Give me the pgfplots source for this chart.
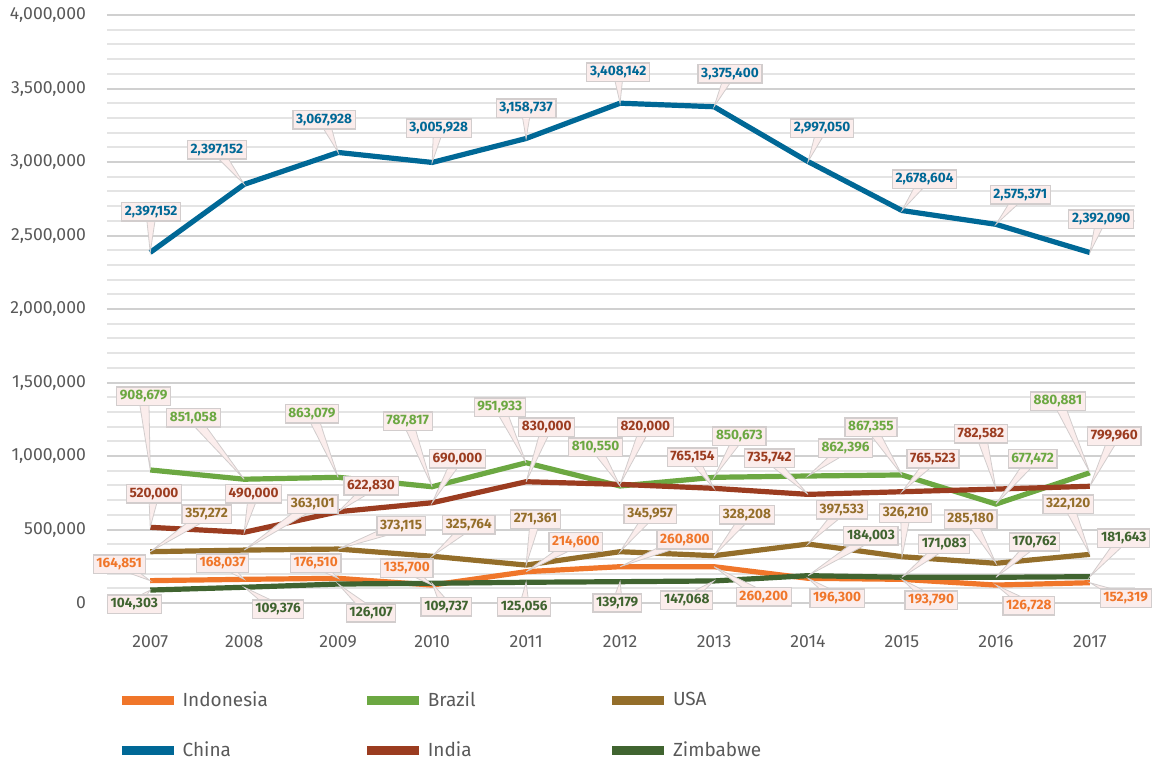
\documentclass[border=0pt]{standalone}
\usepackage{fontspec}
\setmainfont{Fira Sans}
\usepackage{pgfplots}
\pgfplotsset{compat=1.18}
\usetikzlibrary{calc}

\definecolor{cIndo}{RGB}{240,118,42}
\definecolor{cBraz}{RGB}{108,168,66}
\definecolor{cUSA}{RGB}{148,110,42}
\definecolor{cChina}{RGB}{0,104,150}
\definecolor{cIndia}{RGB}{155,60,32}
\definecolor{cZim}{RGB}{64,100,48}
\definecolor{boxfill}{RGB}{251,237,236}
\definecolor{boxdraw}{RGB}{210,205,205}
\definecolor{txt}{RGB}{89,89,89}
\definecolor{gmaj}{RGB}{208,208,208}
\definecolor{gmin}{RGB}{228,228,228}

\newcommand{\callout}[6]{%
  \filldraw[fill=boxfill,draw=boxdraw,line width=0.4pt]
    ($(axis cs:#2,#3)!2.6pt!90:(axis cs:#4,#5)$) -- (axis cs:#4,#5) --
    ($(axis cs:#2,#3)!2.6pt!-90:(axis cs:#4,#5)$) -- cycle;
  \node[fill=boxfill,draw=boxdraw,line width=0.6pt,text=#1,
        font=\fontsize{6.8}{8}\selectfont\bfseries,
        inner xsep=1.6pt,inner ysep=1.6pt] at (axis cs:#2,#3) {#6};%
}

\begin{document}
\begin{tikzpicture}
\begin{axis}[
  scale only axis, width=514pt, height=294pt,
  xmin=2006.54, xmax=2017.48, ymin=0, ymax=4000000,
  clip=false,
  axis line style={draw=none},
  tick style={draw=none},
  xtick={2007,2008,2009,2010,2011,2012,2013,2014,2015,2016,2017},
  ytick={0,500000,1000000,1500000,2000000,2500000,3000000,3500000,4000000},
  minor y tick num=4,
  ymajorgrids, yminorgrids,
  major grid style={line width=1pt, draw=gmaj},
  minor grid style={line width=1pt, draw=gmin},
  scaled y ticks=false,
  /pgf/number format/assume math mode=true,
  xticklabel style={/pgf/number format/1000 sep={}, yshift=-12.5pt},
  yticklabel style={/pgf/number format/fixed, /pgf/number format/1000 sep={,}, xshift=-7pt},
  ticklabel style={font=\fontsize{8.8}{10}\selectfont, text=txt},
  legend columns=3,
  legend cell align=left,
  legend image code/.code={\draw[#1, line width=4.6pt] (0pt,0pt) -- (26pt,0pt);},
  legend style={at={(axis description cs:0,0)}, anchor=north west,
    xshift=2pt, yshift=-40pt, draw=none, fill=none,
    font=\fontsize{9.5}{11}\selectfont, text=txt, row sep=12.2pt},
]
\addplot[cIndo, line width=2.6pt] coordinates {(2007,152000) (2008,161000) (2009,168000) (2010,122000) (2011,213000) (2012,247000) (2013,247000) (2014,168000) (2015,161000) (2016,122000) (2017,138000)};
\addlegendentry{\makebox[88pt][l]{Indonesia}}
\addplot[cBraz, line width=2.6pt] coordinates {(2007,905000) (2008,842000) (2009,855000) (2010,791000) (2011,954000) (2012,796000) (2013,855000) (2014,864000) (2015,871000) (2016,673000) (2017,886000)};
\addlegendentry{\makebox[88pt][l]{Brazil}}
\addplot[cUSA, line width=2.6pt] coordinates {(2007,349000) (2008,360000) (2009,367000) (2010,318000) (2011,258000) (2012,349000) (2013,322000) (2014,401000) (2015,315000) (2016,270000) (2017,331000)};
\addlegendentry{USA}
\addplot[cChina, line width=2.6pt] coordinates {(2007,2385000) (2008,2848000) (2009,3065000) (2010,2997000) (2011,3160000) (2012,3400000) (2013,3376000) (2014,3003000) (2015,2670000) (2016,2576000) (2017,2384000)};
\addlegendentry{China}
\addplot[cIndia, line width=2.6pt] coordinates {(2007,515000) (2008,481000) (2009,621000) (2010,682000) (2011,825000) (2012,807000) (2013,780000) (2014,739000) (2015,757000) (2016,775000) (2017,794000)};
\addlegendentry{India}
\addplot[cZim, line width=2.6pt] coordinates {(2007,88000) (2008,107000) (2009,129000) (2010,134000) (2011,141000) (2012,145000) (2013,150000) (2014,186000) (2015,175000) (2016,175000) (2017,179000)};
\addlegendentry{Zimbabwe}

% China
\callout{cChina}{2007.01}{2660000}{2007}{2385000}{2,397,152}
\callout{cChina}{2007.71}{3082000}{2008}{2848000}{2,397,152}
\callout{cChina}{2008.85}{3286000}{2009}{3065000}{3,067,928}
\callout{cChina}{2010.07}{3231000}{2010}{2997000}{3,005,928}
\callout{cChina}{2011.00}{3367000}{2011}{3160000}{3,158,737}
\callout{cChina}{2011.98}{3612000}{2012}{3400000}{3,408,142}
\callout{cChina}{2013.17}{3599000}{2013}{3376000}{3,375,400}
\callout{cChina}{2014.15}{3231000}{2014}{3003000}{2,997,050}
\callout{cChina}{2015.24}{2884000}{2015}{2670000}{2,678,604}
\callout{cChina}{2016.26}{2776000}{2016}{2576000}{2,575,371}
\callout{cChina}{2017.12}{2612000}{2017}{2384000}{2,392,090}
% Brazil
\callout{cBraz}{2006.93}{1408000}{2007}{905000}{908,679}
\callout{cBraz}{2007.46}{1259000}{2008}{842000}{851,058}
\callout{cBraz}{2008.72}{1286000}{2009}{855000}{863,079}
\callout{cBraz}{2009.74}{1238000}{2010}{791000}{787,817}
\callout{cBraz}{2010.72}{1333000}{2011}{954000}{951,933}
\callout{cBraz}{2011.74}{1061000}{2012}{796000}{810,550}
\callout{cBraz}{2013.27}{1136000}{2013}{855000}{850,673}
\callout{cBraz}{2014.40}{1054000}{2014}{864000}{862,396}
\callout{cBraz}{2014.67}{1197000}{2015}{871000}{867,355}
\callout{cBraz}{2016.39}{980000}{2016}{673000}{677,472}
\callout{cBraz}{2016.66}{1374000}{2017}{886000}{880,881}
% India
\callout{cIndia}{2007.04}{742000}{2007}{515000}{520,000}
\callout{cIndia}{2008.10}{742000}{2008}{481000}{490,000}
\callout{cIndia}{2009.35}{796000}{2009}{621000}{622,830}
\callout{cIndia}{2010.27}{980000}{2010}{682000}{690,000}
\callout{cIndia}{2011.22}{1197000}{2011}{825000}{830,000}
\callout{cIndia}{2012.27}{1197000}{2012}{807000}{820,000}
\callout{cIndia}{2012.77}{993000}{2013}{780000}{765,154}
\callout{cIndia}{2013.59}{986000}{2014}{739000}{735,742}
\callout{cIndia}{2015.33}{980000}{2015}{757000}{765,523}
\callout{cIndia}{2015.84}{1150000}{2016}{775000}{782,582}
\callout{cIndia}{2017.26}{1136000}{2017}{794000}{799,960}
% USA
\callout{cUSA}{2007.60}{605000}{2007}{349000}{357,272}
\callout{cUSA}{2008.73}{673000}{2008}{360000}{363,101}
\callout{cUSA}{2009.67}{524000}{2009}{367000}{373,115}
\callout{cUSA}{2010.39}{531000}{2010}{318000}{325,764}
\callout{cUSA}{2011.10}{571000}{2011}{258000}{271,361}
\callout{cUSA}{2012.32}{605000}{2012}{349000}{345,957}
\callout{cUSA}{2013.35}{599000}{2013}{322000}{328,208}
\callout{cUSA}{2014.36}{633000}{2014}{401000}{397,533}
\callout{cUSA}{2015.04}{612000}{2015}{315000}{326,210}
\callout{cUSA}{2015.73}{571000}{2016}{270000}{285,180}
\callout{cUSA}{2016.77}{673000}{2017}{331000}{322,120}
% Indonesia
\callout{cIndo}{2006.67}{265000}{2007}{152000}{164,851}
\callout{cIndo}{2007.77}{272000}{2008}{161000}{168,037}
\callout{cIndo}{2008.76}{272000}{2009}{168000}{176,510}
\callout{cIndo}{2009.73}{238000}{2010}{122000}{135,700}
\callout{cIndo}{2011.53}{415000}{2011}{213000}{214,600}
\callout{cIndo}{2012.69}{429000}{2012}{247000}{260,800}
\callout{cIndo}{2013.53}{41000}{2013}{247000}{260,200}
\callout{cIndo}{2014.31}{34000}{2014}{168000}{196,300}
\callout{cIndo}{2015.31}{20000}{2015}{161000}{193,790}
\callout{cIndo}{2016.35}{-20000}{2016}{122000}{126,728}
\callout{cIndo}{2017.38}{34000}{2017}{138000}{152,319}
% Zimbabwe
\callout{cZim}{2006.83}{-7000}{2007}{88000}{104,303}
\callout{cZim}{2008.36}{-41000}{2008}{107000}{109,376}
\callout{cZim}{2009.35}{-68000}{2009}{129000}{126,107}
\callout{cZim}{2010.15}{-27000}{2010}{134000}{109,737}
\callout{cZim}{2010.98}{-27000}{2011}{141000}{125,056}
\callout{cZim}{2011.97}{0}{2012}{145000}{139,179}
\callout{cZim}{2012.71}{20000}{2013}{150000}{147,068}
\callout{cZim}{2014.67}{456000}{2014}{186000}{184,003}
\callout{cZim}{2015.45}{401000}{2015}{175000}{171,083}
\callout{cZim}{2016.41}{415000}{2016}{175000}{170,762}
\callout{cZim}{2017.36}{442000}{2017}{179000}{181,643}
\end{axis}
\pgfresetboundingbox
\path[use as bounding box] (-53.5pt,-78.5pt) rectangle (524.5pt,301.5pt);
\end{tikzpicture}
\end{document}
